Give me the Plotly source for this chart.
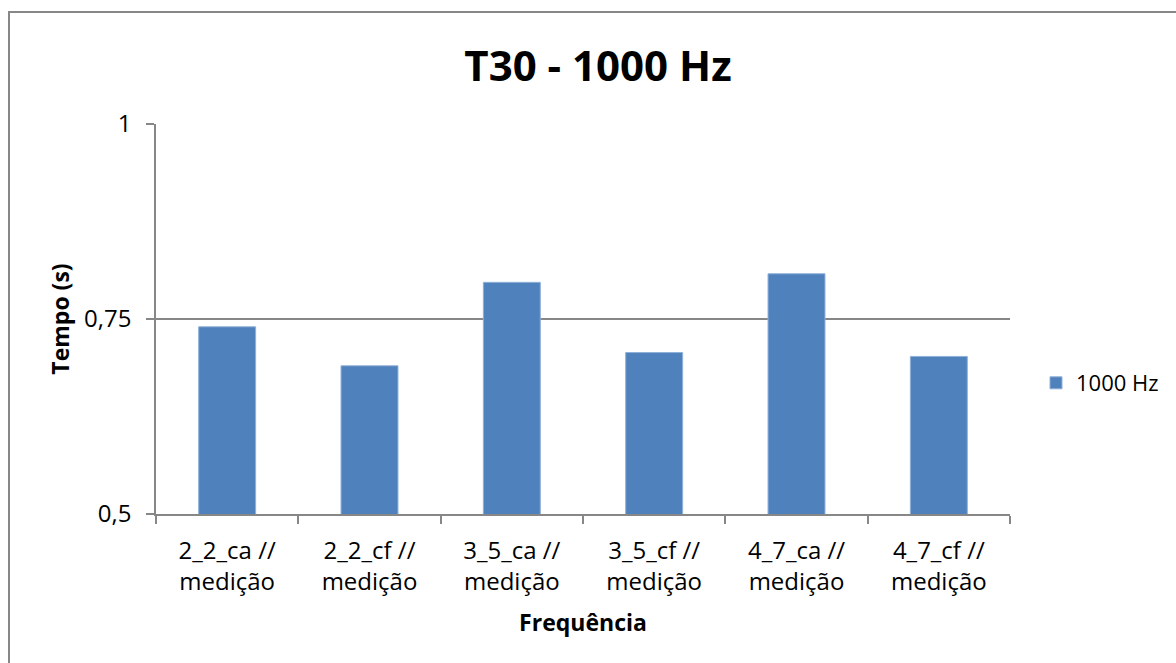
import plotly.graph_objects as go

categories = ["2_2_ca //<br>medição", "2_2_cf //<br>medição", "3_5_ca //<br>medição",
              "3_5_cf //<br>medição", "4_7_ca //<br>medição", "4_7_cf //<br>medição"]
values = [0.740, 0.690, 0.797, 0.707, 0.808, 0.702]
series_name = "1000 Hz"
y_tickvals = [0.5, 0.75, 1.0]
y_ticktext = ["0,5", "0,75", "1"]

W, H = 1176, 663
ML, MR, MT, MB = 156, 166, 124, 149
pw = W - ML - MR
ph = H - MT - MB

FONT = "Open Sans, Calibri, sans-serif"
GRAY = "#878787"

fig = go.Figure()
fig.add_trace(go.Bar(
    x=categories, y=values, name=series_name,
    marker=dict(color="#4F81BD", line=dict(color="#8FB0D8", width=1)),
    showlegend=True,
))

fig.update_layout(
    width=W, height=H,
    margin=dict(l=ML, r=MR, t=MT, b=MB, autoexpand=False),
    paper_bgcolor="white", plot_bgcolor="white",
    font=dict(family=FONT, size=24, color="black"),
    bargap=0.6,
    title=dict(text="<b>T30 - 1000 Hz</b>", x=598 / W, xanchor="center",
               y=1 - 66 / H, yanchor="middle",
               font=dict(family=FONT, size=42, color="black")),
    showlegend=True,
    legend=dict(x=(1036 - ML) / pw, y=(514 - 383) / ph,
                xanchor="left", yanchor="middle", itemwidth=30,
                font=dict(family=FONT, size=22, color="black"),
                bgcolor="rgba(0,0,0,0)"),
    xaxis=dict(
        showline=True, linecolor=GRAY, linewidth=1.5,
        ticks="outside", tickson="boundaries", ticklen=8, tickcolor=GRAY, tickwidth=1.5,
        ticklabelstandoff=14,
        title=dict(text="<b>Frequência</b>", font=dict(family=FONT, size=23), standoff=19),
        tickfont=dict(family=FONT, size=24),
    ),
    yaxis=dict(
        range=[0.5, 1.0], tickvals=y_tickvals, ticktext=y_ticktext,
        showline=True, linecolor=GRAY, linewidth=1.5,
        showgrid=True, gridcolor=GRAY, gridwidth=1.5,
        ticks="outside", ticklen=8, tickcolor=GRAY, tickwidth=1.5,
        ticklabelstandoff=10,
        zeroline=False,
        title=dict(text="<b>Tempo (s)</b>", font=dict(family=FONT, size=23), standoff=8),
        tickfont=dict(family=FONT, size=24),
    ),
)

# outer chart border (frame of the chart area)
fig.add_shape(type="rect", xref="paper", yref="paper",
              x0=(9 - ML) / pw, x1=(1190 - ML) / pw,
              y0=(514 - 680) / ph, y1=(514 - 12) / ph,
              line=dict(color=GRAY, width=2), fillcolor="rgba(0,0,0,0)", layer="below")

fig.write_html("out.html")
